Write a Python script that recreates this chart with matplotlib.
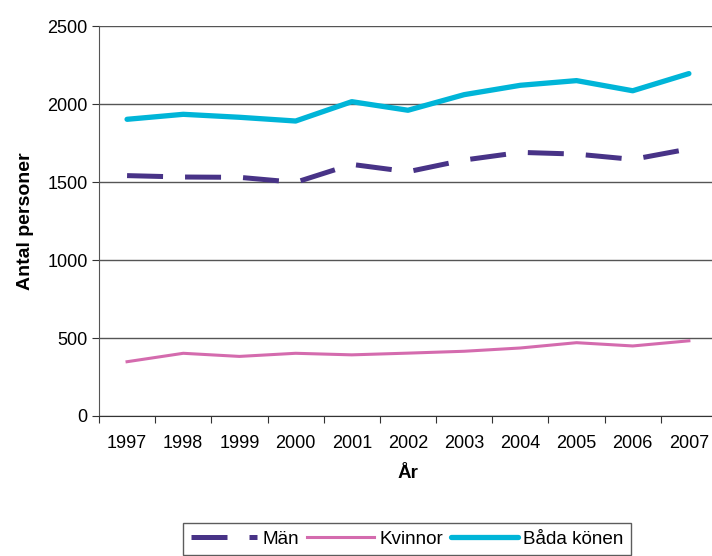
import matplotlib.pyplot as plt

plt.rcParams['font.family'] = ['Liberation Sans', 'DejaVu Sans']

years = ['1997', '1998', '1999', '2000', '2001', '2002', '2003', '2004', '2005', '2006', '2007']
man = [1541, 1532, 1530, 1498, 1613, 1566, 1641, 1690, 1679, 1645, 1712]
kvinnor = [348, 402, 382, 402, 392, 403, 415, 436, 470, 449, 482]
bada = [1902, 1934, 1915, 1891, 2015, 1960, 2060, 2120, 2150, 2085, 2195]

fig = plt.figure(figsize=(7.12, 5.56), dpi=100)
ax = fig.add_axes([0.139, 0.2518, 0.868, 0.7014])

x = list(range(len(years)))
ax.plot(x, man, color='#483387', lw=3.6, dashes=(7.2, 4.4), label='Män', solid_capstyle='butt', dash_capstyle='butt')
ax.plot(x, kvinnor, color='#D46BAE', lw=2.2, label='Kvinnor')
ax.plot(x, bada, color='#00B5D8', lw=3.8, label='Båda könen', solid_capstyle='round')

ax.set_ylim(0, 2500)
ax.set_yticks(range(0, 2501, 500))
ax.set_xlim(-0.5, len(years) - 0.5)
ax.set_xticks([i - 0.5 for i in range(len(years) + 1)])
ax.set_xticklabels([])
ax.set_xticks(x, minor=True)
ax.set_xticklabels(years, minor=True)
ax.tick_params(axis='x', which='minor', length=0, pad=14, labelsize=13)
ax.tick_params(axis='x', which='major', length=5, direction='out', color='#333333')
ax.tick_params(axis='y', length=5, direction='out', color='#333333', labelsize=13, pad=3)

ax.grid(axis='y', color='#555555', lw=1)
ax.set_axisbelow(True)
for s in ['top', 'right']:
    ax.spines[s].set_visible(False)
ax.spines['left'].set_color('#555555')
ax.spines['bottom'].set_color('#333333')

ax.set_xlabel('År', fontsize=13.5, fontweight='bold', labelpad=9)
ax.set_ylabel('Antal personer', fontsize=14, fontweight='bold', labelpad=10)

fig.legend(loc='upper left', bbox_to_anchor=(0.257, 0.0594), ncol=3, fontsize=13.6,
           frameon=True, fancybox=False, edgecolor='#333333', handlelength=3.5,
           handletextpad=0.3, columnspacing=0.45, borderaxespad=0, borderpad=0.4)

fig.savefig('out.png', dpi=100)
